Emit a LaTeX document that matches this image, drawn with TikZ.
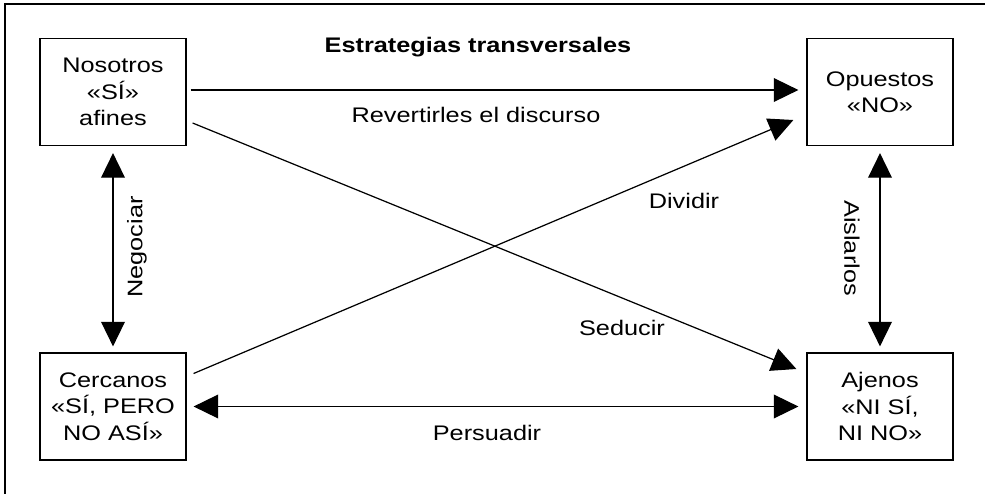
\documentclass[tikz,border=0pt]{standalone}
\usepackage{fontspec}
\setmainfont{Liberation Sans}[FakeStretch=1.2]
\usetikzlibrary{arrows.meta,calc}

\begin{document}
\begin{tikzpicture}[x=0.02cm,y=-0.02cm,line width=0.7pt,
  font=\fontsize{12}{15}\selectfont,
  tri/.tip={Triangle[length=14pt,width=13.5pt]},
  box/.style={draw,minimum width=2.92cm,minimum height=2.14cm,align=center},
  title/.style={font=\fontsize{12}{15}\selectfont\bfseries}]
\useasboundingbox (0,0) rectangle (985,494);
\draw[line width=1pt] (5,494) -- (5,4) -- (985,4);
\node[box] (nos) at (113,92)    {Nosotros\\«SÍ»\\afines};
\node[box] (opu) at (880,92)    {Opuestos\\«NO»};
\node[box] (cer) at (113,406.5) {Cercanos\\«SÍ, PERO\\NO ASÍ»};
\node[box] (aje) at (880,406.5) {Ajenos\\«NI SÍ,\\NI NO»};
\node[title] (tit) at (478,47) {Estrategias transversales};
\draw[-tri] ($(nos.east)+(4,-2)$) -- ($(opu.west)+(-8,-2)$);
\draw[-tri] ($(nos.east)+(6,31)$) -- ($(aje.west)+(-10,-37.5)$);
\draw[-tri] ($(cer.east)+(7,-33)$) -- ($(opu.west)+(-13,28)$);
\draw[tri-tri] ($(cer.east)+(7,0)$) -- ($(aje.west)+(-8,0)$);
\draw[tri-tri] ($(nos.south)+(0,7)$) -- ($(cer.north)+(0,-6)$);
\draw[tri-tri] ($(opu.south)+(0,7)$) -- ($(aje.north)+(0,-6)$);
\node (rev) at (476,115) {Revertirles el discurso};
\node (div) at (684,201) {Dividir};
\node (sed) at (622,328) {Seducir};
\node (per) at (487,433) {Persuadir};
\node[rotate=90] (neg) at (137,247) {Negociar};
\node[rotate=-90] (ais) at (852,248) {Aislarlos};
\end{tikzpicture}
\end{document}
